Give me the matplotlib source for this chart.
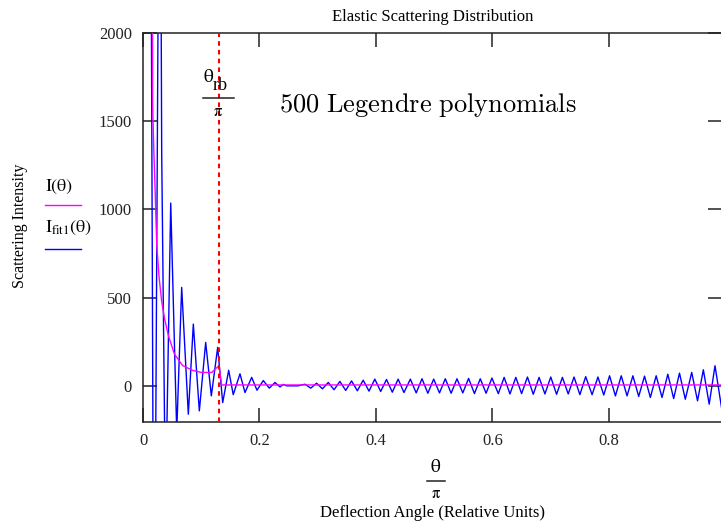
import numpy as np
import matplotlib
matplotlib.use("Agg")
from matplotlib import pyplot as plt
from matplotlib.lines import Line2D

plt.rcParams['font.family'] = ['Liberation Serif', 'DejaVu Serif']
plt.rcParams['mathtext.fontset'] = 'stix'

# exact intensity I(theta) vs theta/pi
inc_x = [0.0140, 0.0165, 0.0185, 0.0210, 0.0235, 0.0275, 0.0320, 0.0370, 0.0440, 0.0540,
         0.0680, 0.0850, 0.1000, 0.1180, 0.1240, 0.1290, 0.1310, 0.1350, 0.994]
inc_y = [8000, 1600, 1345, 1090, 805, 620, 480, 380, 280, 180,
         115, 88, 76, 76, 95, 110, 100, 5, 5]

# Legendre fit Ifit1(theta), small angles
fit_x_near = [0.0100, 0.0190, 0.0290, 0.0321, 0.0386, 0.0476, 0.0579, 0.0664, 0.0778, 0.0864,
              0.0967, 0.1076, 0.1173, 0.1282, 0.1368, 0.1471, 0.1549, 0.1665, 0.1751, 0.1866,
              0.1957, 0.2065, 0.2168, 0.2266, 0.2352, 0.2409, 0.2467, 0.2661]
fit_y_near = [6000, -2000, 4000, 1318, -700, 1036, -260, 558, -161, 350,
              -142, 246, -57, 218, -95, 88, -50, 68, -38, 48,
              -25, 30, -13, 19, -6, 8, 0, 0]

# Legendre fit, ringing beyond the rainbow angle (peak, trough, peak, ...)
fit_x_tail = [0.278, 0.288, 0.298, 0.308, 0.318, 0.328, 0.338, 0.348, 0.358, 0.368,
              0.378, 0.388, 0.398, 0.408, 0.418, 0.428, 0.438, 0.448, 0.459, 0.469,
              0.479, 0.489, 0.499, 0.509, 0.519, 0.529, 0.539, 0.549, 0.559, 0.569,
              0.579, 0.589, 0.599, 0.610, 0.620, 0.630, 0.640, 0.650, 0.660, 0.670,
              0.680, 0.690, 0.700, 0.710, 0.720, 0.730, 0.740, 0.750, 0.760, 0.771,
              0.781, 0.791, 0.801, 0.811, 0.821, 0.831, 0.841, 0.851, 0.861, 0.871,
              0.881, 0.891, 0.901, 0.911, 0.921, 0.931, 0.942, 0.952, 0.962, 0.972,
              0.982, 0.994]
fit_y_tail = [9, -13, 15, -17, 19, -22, 25, -26, 28, -28,
              32, -30, 38, -32, 36, -36, 38, -38, 38, -40,
              40, -42, 38, -40, 40, -42, 40, -40, 42, -44,
              40, -42, 44, -44, 48, -46, 48, -44, 50, -48,
              48, -46, 50, -48, 48, -46, 50, -50, 52, -50,
              50, -52, 57, -57, 57, -57, 57, -60, 55, -66,
              57, -66, 66, -72, 72, -76, 76, -85, 91, -104,
              114, -140]

theta_rb = 0.1305

xticks = [0, 0.2, 0.4, 0.6, 0.8]
xtick_labels = ["0", "0.2", "0.4", "0.6", "0.8"]
yticks = [0, 500, 1000, 1500, 2000]
ytick_labels = ["0", "500", "1000", "1500", "2000"]

fit_x = fit_x_near + fit_x_tail
fit_y = fit_y_near + fit_y_tail

W, H = 721, 527


def fx(px):
    return px / W


def fy(py):
    return 1 - py / H


def hline(x0, x1, y, color, lw):
    fig.lines.append(Line2D([fx(x0), fx(x1)], [fy(y), fy(y)], color=color, lw=lw,
                            transform=fig.transFigure))


fig = plt.figure(figsize=(7.21, 5.27), dpi=100)
ax = fig.add_axes([fx(143), fy(422), (722 - 143) / W, (422 - 33) / H])

ax.plot(fit_x, fit_y, color='#0000ff', lw=1.0, zorder=2)
ax.plot(inc_x, inc_y, color='#ff00ff', lw=1.0, zorder=3)
ax.axvline(theta_rb, color='#ff0000', lw=1.5, ls=(0, (2.2, 2.0)), zorder=4)

ax.set_xlim(0, 0.994)
ax.set_ylim(-205, 2000)
ax.set_xticks(xticks)
ax.set_xticklabels(xtick_labels)
ax.set_yticks(yticks)
ax.set_yticklabels(ytick_labels)
ax.tick_params(direction='in', length=10, width=1.1, top=True, right=True,
               labelsize=12, pad=8, colors='#222222')
for s in ax.spines.values():
    s.set_linewidth(1.1)
    s.set_color('#222222')

ax.text(0.2335, 1591, r'$\mathrm{500\ Legendre\ polynomials}$', fontsize=19,
        math_fontfamily='cm', ha='left', va='center')

# theta_rb / pi marker label above the dashed line
fig.text(fx(203), fy(77), r'$\mathrm{\theta}$', fontsize=14, ha='left', va='center')
fig.text(fx(213), fy(86), 'rb', fontsize=13, ha='left', va='center')
hline(203, 234, 98, '#222222', 1.1)
fig.text(fx(218), fy(112), r'$\mathrm{\pi}$', fontsize=12, ha='center', va='center')

fig.text(fx(433), fy(17), 'Elastic Scattering Distribution',
         fontsize=12, ha='center', va='center')
fig.text(fx(20), fy(226), 'Scattering Intensity', fontsize=11.5,
         rotation=90, ha='center', va='center')

# x axis label as theta over pi
fig.text(fx(436), fy(467), r'$\mathrm{\theta}$', fontsize=14, ha='center', va='center')
hline(427, 445, 481, '#222222', 1.1)
fig.text(fx(436), fy(494), r'$\mathrm{\pi}$', fontsize=12, ha='center', va='center')
fig.text(fx(433), fy(513), 'Deflection Angle (Relative Units)',
         fontsize=12, ha='center', va='center')

# legend drawn by hand to the left of the axes
fig.text(fx(45), fy(187), r'$\mathrm{I(\theta)}$', fontsize=13, ha='left', va='center')
hline(45, 81, 205, '#ff00ff', 1.0)
fig.text(fx(45), fy(228), r'$\mathrm{I_{fit1}(\theta)}$', fontsize=13, ha='left', va='center')
hline(45, 81, 249, '#0000ff', 1.0)

fig.savefig('out.png', dpi=100)
